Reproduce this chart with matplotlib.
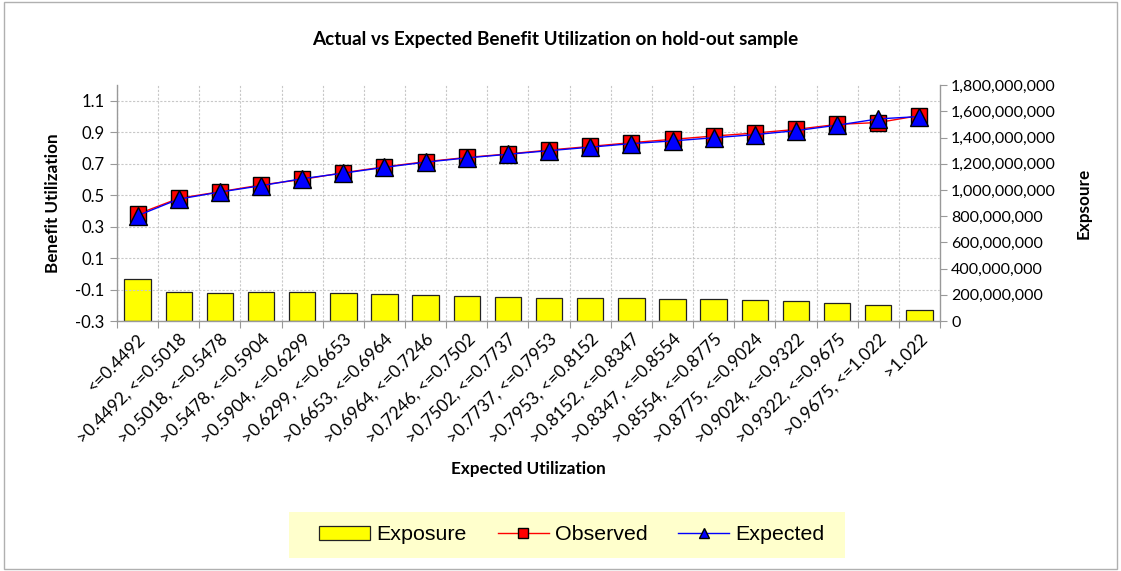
import matplotlib
matplotlib.use("Agg")
import matplotlib.pyplot as plt
from matplotlib.ticker import FuncFormatter, FixedLocator
from matplotlib.lines import Line2D
from matplotlib.patches import Patch, Rectangle
import numpy as np

categories = ["<=0.4492", ">0.4492, <=0.5018", ">0.5018, <=0.5478", ">0.5478, <=0.5904",
              ">0.5904, <=0.6299", ">0.6299, <=0.6653", ">0.6653, <=0.6964", ">0.6964, <=0.7246",
              ">0.7246, <=0.7502", ">0.7502, <=0.7737", ">0.7737, <=0.7953", ">0.7953, <=0.8152",
              ">0.8152, <=0.8347", ">0.8347, <=0.8554", ">0.8554, <=0.8775", ">0.8775, <=0.9024",
              ">0.9024, <=0.9322", ">0.9322, <=0.9675", ">0.9675, <=1.022", ">1.022"]
exposure = [320e6, 219e6, 216e6, 219e6, 219e6, 216e6, 207e6, 196e6, 188e6, 183e6,
            178e6, 173e6, 173e6, 170e6, 168e6, 163e6, 153e6, 140e6, 120e6, 84e6]
observed = [0.38, 0.48, 0.522, 0.565, 0.60, 0.643, 0.68, 0.713, 0.74, 0.762,
            0.787, 0.81, 0.834, 0.855, 0.876, 0.895, 0.918, 0.95, 0.962, 1.006]
expected = [0.37, 0.475, 0.52, 0.56, 0.605, 0.64, 0.677, 0.71, 0.737, 0.76,
            0.783, 0.805, 0.828, 0.845, 0.865, 0.885, 0.91, 0.945, 0.985, 1.0]

left_ticks = [-0.3, -0.1, 0.1, 0.3, 0.5, 0.7, 0.9, 1.1]
right_ticks = np.arange(0, 1.8e9 + 1, 2e8)

tick_font = "Lato"
fig = plt.figure(figsize=(11.21, 5.71), dpi=100)
W, H = 1121.0, 571.0
fig.patches.append(Rectangle((0.004, 0.004), 0.992, 0.992, transform=fig.transFigure,
                             fill=False, edgecolor="#b0b0b0", linewidth=1.0))

ax = fig.add_axes([0.1044, 0.4378, 0.7341, 0.4132])
ax2 = ax.twinx()
ax.set_zorder(ax2.get_zorder() + 1)
ax.patch.set_visible(False)

x = np.arange(len(categories))

# exposure bars on the secondary axis
ax2.bar(x, exposure, width=0.64, color="#ffff00", edgecolor="#222222", linewidth=0.9, zorder=3)
ax2.set_ylim(0, 1.8e9)
ax2.yaxis.set_major_locator(FixedLocator(right_ticks))
ax2.yaxis.set_major_formatter(FuncFormatter(lambda v, p: f"{int(round(v)):,}"))

# utilization lines on the primary axis
ax.plot(x, observed, color="#ff0000", linewidth=1.0, marker="s", markersize=12,
        markerfacecolor="#ff0000", markeredgecolor="#000000", markeredgewidth=1.0, zorder=5)
ax.plot(x, expected, color="#0000ff", linewidth=1.0, marker="^", markersize=13,
        markerfacecolor="#0000ff", markeredgecolor="#000000", markeredgewidth=1.0, zorder=6)

ax.set_xlim(-0.5, len(categories) - 0.5)
ax.set_ylim(-0.3, 1.2)
ax.yaxis.set_major_locator(FixedLocator(left_ticks))
ax.yaxis.set_major_formatter(FuncFormatter(lambda v, p: f"{v:.1f}"))

# category ticks at bin edges, labels at centres
ax.set_xticks(np.arange(-0.5, len(categories), 1.0))
ax.set_xticklabels([])
ax.set_xticks(x, minor=True)
ax.set_xticklabels(categories, minor=True, rotation=45, ha="right", va="top",
                   rotation_mode="anchor", fontsize=12.5, family=tick_font)
ax.tick_params(axis="x", which="minor", length=0, pad=7)
ax.tick_params(axis="x", which="major", length=5, color="#999999", direction="out")

ax.grid(True, which="major", axis="both", linestyle=(0, (2, 1.5)), color="#c8c8c8", linewidth=0.8)
ax2.grid(False)

for a in (ax, ax2):
    for s in a.spines.values():
        s.set_visible(False)
ax.spines["left"].set_visible(True)
ax.spines["bottom"].set_visible(True)
ax2.spines["right"].set_visible(True)
for s in (ax.spines["left"], ax.spines["bottom"], ax2.spines["right"]):
    s.set_color("#999999")
    s.set_linewidth(1.0)

ax.tick_params(axis="y", length=5, pad=4, color="#999999", labelsize=12)
ax2.tick_params(axis="y", length=5, pad=3, color="#999999", labelsize=11.5)
for lab in ax.get_yticklabels() + ax2.get_yticklabels():
    lab.set_family(tick_font)

ax.set_ylabel("Benefit Utilization", fontsize=12.3, fontweight="bold", family=tick_font, labelpad=10)
ax2.set_ylabel("Expsoure", fontsize=12.3, fontweight="bold", family=tick_font, labelpad=14)
fig.text(0.4712, 0.179, "Expected Utilization", ha="center", va="center",
         fontsize=12.3, fontweight="bold", family=tick_font)
fig.text(0.495, 0.930, "Actual vs Expected Benefit Utilization on hold-out sample",
         ha="center", va="center", fontsize=13.6, fontweight="bold", family=tick_font)

# legend panel with pale yellow background
fig.patches.append(Rectangle((289 / W, 1 - 558 / H), (845 - 289) / W, 46 / H,
                             transform=fig.transFigure, facecolor="#ffffcc",
                             edgecolor="none", zorder=0))
handles = [
    Patch(facecolor="#ffff00", edgecolor="#222222", linewidth=0.9, label="Exposure"),
    Line2D([0], [0], color="#ff0000", linewidth=1.0, marker="s", markersize=7,
           markerfacecolor="#ff0000", markeredgecolor="#000000", label="Observed"),
    Line2D([0], [0], color="#0000ff", linewidth=1.0, marker="^", markersize=7,
           markerfacecolor="#0000ff", markeredgecolor="#000000", label="Expected"),
]
leg = fig.legend(handles=handles, loc="center", bbox_to_anchor=(572 / W, 1 - 535 / H), ncol=3,
                 frameon=False, prop={"family": "Liberation Sans", "size": 15.4},
                 handlelength=2.38, handleheight=0.6, columnspacing=1.45,
                 handletextpad=0.28, borderpad=0.0, borderaxespad=0)

fig.savefig("out.png", dpi=100)
